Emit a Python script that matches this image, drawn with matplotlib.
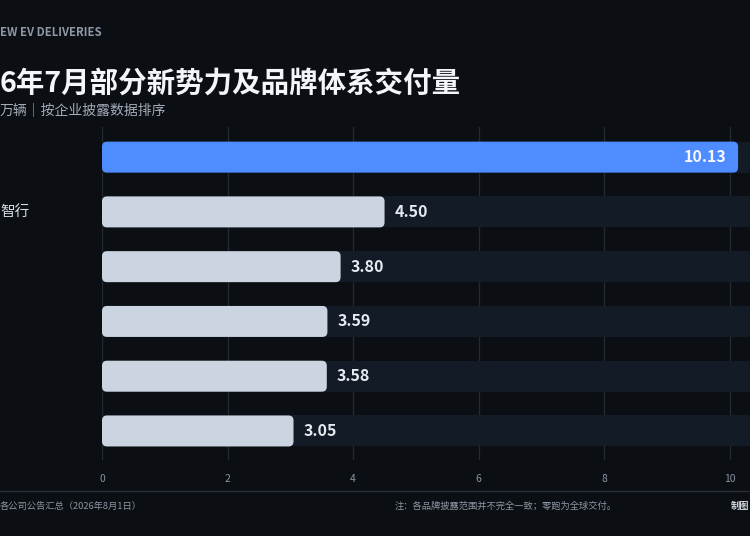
import matplotlib
matplotlib.use("Agg")
import matplotlib.pyplot as plt
from matplotlib.patches import FancyBboxPatch
from matplotlib.lines import Line2D
from matplotlib.transforms import blended_transform_factory

plt.rcParams['font.family'] = ['Noto Sans CJK SC', 'DejaVu Sans']

# ---- data (visible portion of the reference) ----
brands = ["", "智行", "", "", "", ""]
deliveries = [10.13, 4.50, 3.80, 3.59, 3.58, 3.05]
value_labels = ["10.13", "4.50", "3.80", "3.59", "3.58", "3.05"]
x_ticks = [0, 2, 4, 6, 8, 10]
x_tick_labels = ["0", "2", "4", "6", "8", "10"]

kicker = "EW EV DELIVERIES"
title = "6年7月部分新势力及品牌体系交付量"
subtitle = "万辆｜按企业披露数据排序"
source = "各公司公告汇总（2026年8月1日）"
note = "注：各品牌披露范围并不完全一致；零跑为全球交付。"
credit = "制图"

# ---- style ----
BG = "#0b0e13"
TRACK = "#131b26"
GRID = "#232a33"
BLUE = "#4f8cff"
LIGHT = "#cbd5e1"

W, H = 750, 536
fig = plt.figure(figsize=(W / 100, H / 100), dpi=100, facecolor=BG)

def fx(px):
    return px / W

def fy(py):
    return 1 - py / H

ax_left, ax_right, ax_top, ax_bot = 102, 750, 127, 460
ax = fig.add_axes([fx(ax_left), fy(ax_bot), fx(ax_right - ax_left), (ax_bot - ax_top) / H])
ax.set_facecolor(BG)

XMAX = 10.32
YTOP, YBOT = -0.55, 5.53
ax.set_xlim(0, XMAX)
ax.set_ylim(YBOT, YTOP)

px_per_x = (ax_right - ax_left) / XMAX
px_per_y = (ax_bot - ax_top) / (YBOT - YTOP)

bar_h = 31 / px_per_y
ys = list(range(len(deliveries)))

# tracks
ax.barh(ys, [XMAX * 1.2] * len(ys), left=0, height=bar_h, color=TRACK, zorder=1)

# rounded value bars
r_px = 5
rx = r_px / px_per_x
asp = (r_px / px_per_y) / rx
for i, v in enumerate(deliveries):
    col = BLUE if i == 0 else LIGHT
    p = FancyBboxPatch((0, i - bar_h / 2), v, bar_h,
                       boxstyle=f"round,pad=0,rounding_size={rx}",
                       mutation_aspect=asp, facecolor=col, edgecolor="none", zorder=2)
    ax.add_patch(p)
    if i == 0:
        ax.annotate(value_labels[i], xy=(v, i), xytext=(-8, 0), textcoords="offset points",
                    ha="right", va="center", color="#f4f7ff", fontsize=11.5,
                    fontweight="bold", zorder=3)
    else:
        ax.annotate(value_labels[i], xy=(v, i), xytext=(7, 0), textcoords="offset points",
                    ha="left", va="center", color="#e6eaf0", fontsize=11.5,
                    fontweight="bold", zorder=3)

# category labels
tr = blended_transform_factory(fig.transFigure, ax.transData)
for i, b in enumerate(brands):
    if b:
        ax.text(fx(0), i, b, transform=tr, ha="left", va="center",
                color="#d6dce4", fontsize=10.5, clip_on=False)

ax.set_xticks(x_ticks)
ax.set_xticklabels(x_tick_labels)
ax.set_yticks([])
ax.grid(axis="x", color=GRID, lw=1)
ax.set_axisbelow(True)
ax.tick_params(axis="x", length=0, pad=10, labelcolor="#8a94a1", labelsize=7.5)
for s in ax.spines.values():
    s.set_visible(False)

# header texts
fig.text(fx(0.5), fy(33), kicker, ha="left", va="center", color="#8e98a5",
         fontsize=8.2, fontweight="bold")
fig.text(fx(0), fy(83.5), title, ha="left", va="center", color="#f3f5f8",
         fontsize=20.5, fontweight="bold")
fig.text(fx(0), fy(110), subtitle, ha="left", va="center", color="#a3acb8",
         fontsize=10)

# footer
fig.add_artist(Line2D([0, 1], [fy(491), fy(491)], transform=fig.transFigure,
                      color="#272e37", lw=1))
fig.text(fx(0), fy(506), source, ha="left", va="center", color="#8d96a3", fontsize=6.7)
fig.text(fx(617), fy(506), note, ha="right", va="center", color="#8d96a3", fontsize=6.7)
fig.text(fx(749), fy(506), credit, ha="right", va="center", color="#cdd3db",
         fontsize=6.7, fontweight="bold")

fig.savefig("out.png", dpi=100, facecolor=BG)
